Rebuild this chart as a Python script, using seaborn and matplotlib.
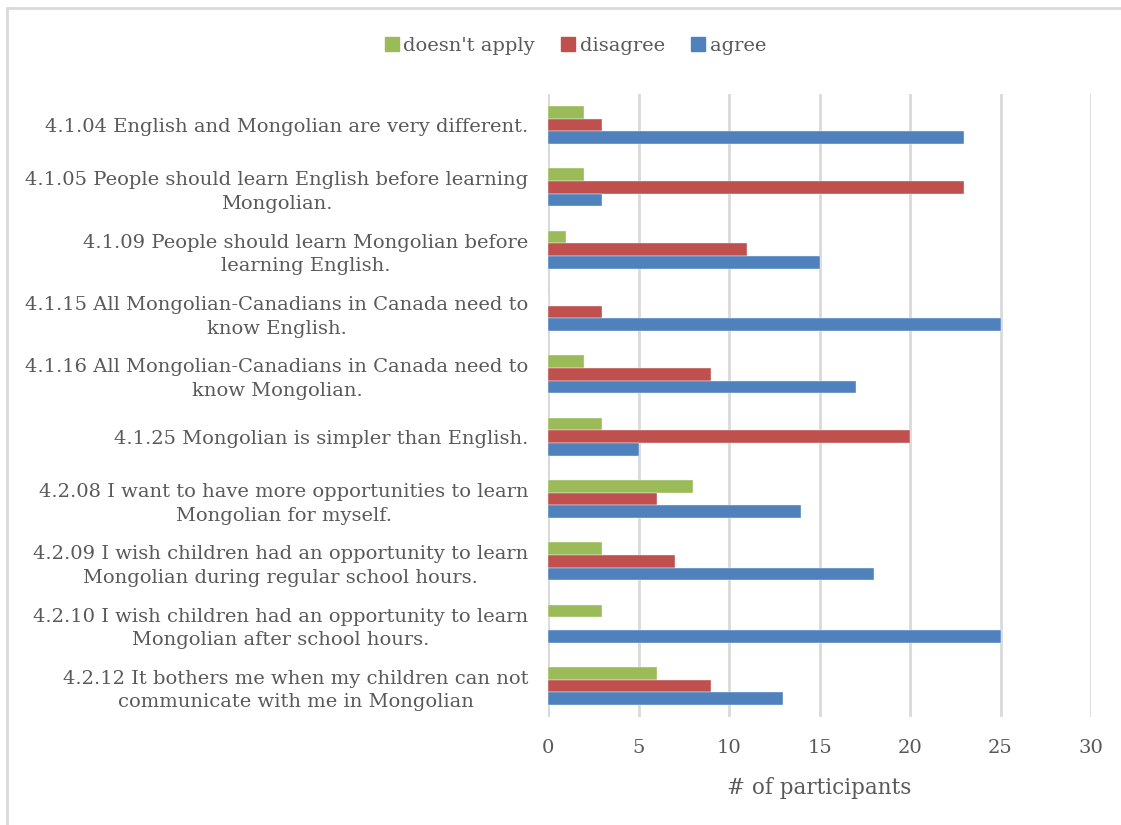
import matplotlib
matplotlib.use("Agg")
import matplotlib.pyplot as plt
import seaborn as sns
import pandas as pd
from matplotlib.lines import Line2D

# Survey statements (wrapped as they appear on the axis)
statements = [
    "4.1.04 English and Mongolian are very different.",
    "4.1.05 People should learn English before learning\nMongolian.",
    "4.1.09 People should learn Mongolian before\nlearning English.",
    "4.1.15 All Mongolian-Canadians in Canada need to\nknow English.",
    "4.1.16 All Mongolian-Canadians in Canada need to\nknow Mongolian.",
    "4.1.25 Mongolian is simpler than English.",
    "4.2.08 I want to have more opportunities to learn\nMongolian for myself.",
    "4.2.09 I wish children had an opportunity to learn\nMongolian during regular school hours.",
    "4.2.10 I wish children had an opportunity to learn\nMongolian after school hours.",
    "4.2.12 It bothers me when my children can not\ncommunicate with me in Mongolian",
]
doesnt_apply = [2, 2, 1, 0, 2, 3, 8, 3, 3, 6]
disagree = [3, 23, 11, 3, 9, 20, 6, 7, 0, 9]
agree = [23, 3, 15, 25, 17, 5, 14, 18, 25, 13]

responses = ["doesn't apply", "disagree", "agree"]
colors = ["#9BBB59", "#C0504D", "#4F81BD"]
x_ticks = [0, 5, 10, 15, 20, 25, 30]

df = pd.DataFrame({
    "statement": statements * 3,
    "response": [responses[0]] * 10 + [responses[1]] * 10 + [responses[2]] * 10,
    "count": doesnt_apply + disagree + agree,
})

sns.set_theme(style="white")
plt.rcParams["font.family"] = ["DejaVu Serif", "Liberation Serif"]
text_color = "#595959"

fig = plt.figure(figsize=(11.21, 8.25), dpi=100)
ax = fig.add_axes([548 / 1121, 1 - 717 / 825, (1091 - 548) / 1121, (717 - 94) / 825])

sns.barplot(data=df, y="statement", x="count", hue="response",
            order=statements, hue_order=responses, palette=colors,
            orient="h", width=0.61, gap=0, saturation=1,
            edgecolor="#EEF2F8", linewidth=0.3, ax=ax, zorder=3)

ax.set_xlim(0, 30)
ax.set_xticks(x_ticks)
ax.set_ylim(9.5, -0.5)
ax.xaxis.grid(True, color="#D9D9D9", linewidth=2, zorder=0)
ax.yaxis.grid(False)
for s in ax.spines.values():
    s.set_visible(False)
ax.axvline(0, color="#D9D9D9", linewidth=2, zorder=1)

ax.tick_params(axis="x", length=0, pad=16, labelsize=14, labelcolor=text_color)
ax.tick_params(axis="y", length=0, pad=14, labelsize=14, labelcolor=text_color)
for lbl in ax.get_yticklabels():
    lbl.set_multialignment("center")
    lbl.set_linespacing(1.4)
ax.set_ylabel("")
ax.set_xlabel("# of participants", fontsize=15.5, color=text_color, labelpad=14)

ax.legend_.remove()
handles = [Line2D([], [], marker="s", linestyle="", markersize=10,
                  markerfacecolor=c, markeredgecolor=c) for c in colors]
fig.legend(handles, responses, loc="center", bbox_to_anchor=(574 / 1121, 1 - 46 / 825),
           ncol=3, frameon=False, fontsize=14, labelcolor=text_color,
           handletextpad=0.1, columnspacing=1.2, handlelength=1.0)

# Chart-area frame (left and top edges)
fig.add_artist(Line2D([7 / 1121, 7 / 1121], [0, 1 - 8 / 825], transform=fig.transFigure,
                      color="#D9D9D9", linewidth=2))
fig.add_artist(Line2D([7 / 1121, 1], [1 - 8 / 825, 1 - 8 / 825], transform=fig.transFigure,
                      color="#D9D9D9", linewidth=2))

fig.savefig("out.png", dpi=100, facecolor="white")
